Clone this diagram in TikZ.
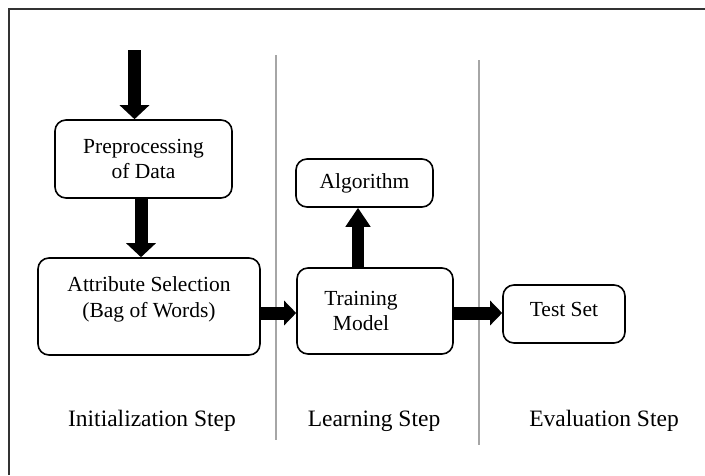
\documentclass[tikz,border=0pt]{standalone}
\usepackage{fontspec}
\setmainfont{Liberation Serif}
\usetikzlibrary{arrows.meta}
\begin{document}
\begin{tikzpicture}[x=1pt,y=-1pt,
  boxtext/.style={font=\fontsize{21.5}{25.5}\selectfont,align=center},
  box/.style={draw=black,line width=1.6pt,rounded corners=11pt,inner sep=0pt,boxtext},
  flow/.style={line width=13pt,-{Triangle[width=29pt,length=14pt]}},
  flowh/.style={line width=13pt,-{Triangle[width=24pt,length=12pt]}},
  flowup/.style={line width=12pt,-{Triangle[width=24pt,length=19pt]}},
  steplabel/.style={font=\fontsize{23.5}{28}\selectfont},
  sep/.style={draw=black!35,line width=1.2pt},
  frame/.style={draw=black!80,line width=1.5pt}]
\useasboundingbox (0,0) rectangle (705,475);
\draw[frame] (9,475) -- (9,9) -- (705,9);
\draw[sep] (276,55) -- (276,440);
\draw[sep] (479,60) -- (479,445);

\node[box,minimum width=177pt,minimum height=78pt] (prep) at (143.5,159) {Preprocessing\\of Data};
\node[box,minimum width=222pt,minimum height=97pt,
  label={[boxtext,yshift=7pt]center:{Attribute Selection\\(Bag of Words)}}] (attr) at (149,306.5) {};
\node[box,minimum width=137pt,minimum height=48pt] (algo) at (364.5,183) {Algorithm};
\node[box,minimum width=156pt,minimum height=86pt,
  label={[boxtext,xshift=-14pt]center:{Training\\Model}}] (train) at (375,311) {};
\node[box,minimum width=122pt,minimum height=58pt,
  label={[boxtext,yshift=5pt]center:{Test Set}}] (test) at (564,314) {};

\node[steplabel] (l1) at (152,421) {Initialization Step};
\node[steplabel] (l2) at (374,421) {Learning Step};
\node[steplabel] (l3) at (604,421) {Evaluation Step};

\coordinate (in) at (134.5,50);
\coordinate (p2) at ([xshift=-2.5pt]prep.south);
\coordinate (h1) at (0,313);
\coordinate (v1) at (358,0);
\draw[flow] (in) -- (in |- prep.north);
\draw[flow] (p2) -- (p2 |- attr.north);
\draw[flowh] (attr.east |- h1) -- (train.west |- h1);
\draw[flowh] (train.east |- h1) -- (test.west |- h1);
\draw[flowup] (train.north -| v1) -- (algo.south -| v1);
\end{tikzpicture}
\end{document}
